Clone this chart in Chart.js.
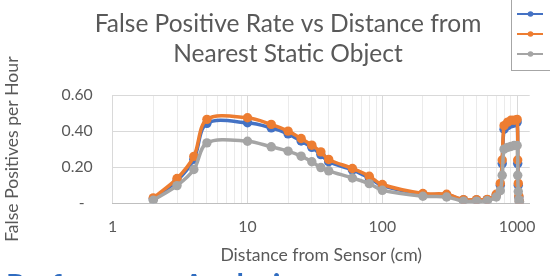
<!DOCTYPE html>
<html><head><meta charset="utf-8">
<script src="https://cdn.jsdelivr.net/npm/chart.js@4.4.1/dist/chart.umd.min.js"></script>
<style>
html,body{margin:0;padding:0;width:550px;height:276px;overflow:hidden;background:#fff}
#wrap{position:relative;width:550px;height:276px;overflow:hidden}
canvas{display:block}
#heading{position:absolute;left:6px;top:269px;font:bold 30px Lato, sans-serif;color:#2F6CC0;white-space:nowrap;line-height:1}
</style></head><body>
<div id="wrap"><canvas id="c" width="550" height="276"></canvas><div id="heading">Performance Analysis</div></div>
<script>
// ---- data ----
const distances = [2,3,4,5,10,15,20,25,30,35,40,60,80,100,200,300,400,500,600,700,750,775,800,850,900,950,1000,1010,1020,1030,1040];
const seriesBlue   = [0.025,0.125,0.244,0.443,0.446,0.418,0.385,0.345,0.31,0.27,0.23,0.185,0.14,0.098,0.05,0.047,0.018,0.018,0.02,0.045,0.10,0.22,0.41,0.43,0.44,0.445,0.45,0.22,0.10,0.035,0.008];
const seriesOrange = [0.03,0.137,0.26,0.465,0.474,0.437,0.40,0.359,0.322,0.285,0.243,0.193,0.15,0.104,0.054,0.05,0.02,0.02,0.022,0.05,0.11,0.24,0.43,0.45,0.46,0.46,0.465,0.24,0.11,0.04,0.01];
const seriesGray   = [0.017,0.098,0.187,0.335,0.344,0.313,0.289,0.261,0.23,0.198,0.18,0.14,0.109,0.072,0.039,0.035,0.012,0.012,0.014,0.035,0.07,0.155,0.30,0.31,0.315,0.32,0.32,0.155,0.065,0.02,0.005];
const seriesNames = ['Series 1','Series 2','Series 3'];
const xTickLabels = [1,10,100,1000];
const yTickValues = [0,0.2,0.4,0.6];
const yTickLabels = ['-  ','0.20','0.40','0.60'];
const titleLines = ['False Positive Rate vs Distance from','Nearest Static Object'];
const xTitle = 'Distance from Sensor (cm)';
const yTitle = 'False Positives per Hour';
const headingText = 'Performance Analysis';

document.getElementById('heading').textContent = headingText;

const colors = ['#4472C4','#ED7D31','#A5A5A5'];
const FONT = 'Lato, "Open Sans", sans-serif';
const TEXT = '#595959';

function pts(vals){ return distances.map((d,i)=>({x:d,y:vals[i]})); }

// all log gridline positions (1..9, 10..90, 100..900, 1000)
const gridVals = [];
for (let dec=1; dec<=100; dec*=10){ for(let k=1;k<=9;k++) gridVals.push(k*dec); }
gridVals.push(1000);

const titlePlugin = {
  id:'twoLineTitle',
  afterDraw(chart){
    const ctx = chart.ctx; ctx.save();
    ctx.font = '24.5px ' + FONT; ctx.fillStyle = TEXT;
    ctx.textAlign = 'center'; ctx.textBaseline = 'alphabetic';
    titleLines.forEach((t,i)=>ctx.fillText(t, 288, 32 + i*30));
    ctx.restore();
  }
};
const legendPlugin = {
  id:'boxLegend',
  afterDraw(chart){
    const ctx = chart.ctx; ctx.save();
    ctx.fillStyle = '#fff'; ctx.fillRect(511,-2,60,72);
    ctx.strokeStyle = '#a6a6a6'; ctx.lineWidth = 1; ctx.strokeRect(511.5,-2,60,72.5);
    chart.data.datasets.forEach((ds,i)=>{
      const y = 14 + i*20;
      ctx.strokeStyle = ds.borderColor; ctx.lineWidth = 2;
      ctx.beginPath(); ctx.moveTo(517,y); ctx.lineTo(543,y); ctx.stroke();
      ctx.fillStyle = ds.borderColor;
      ctx.beginPath(); ctx.arc(530.5,y,2.8,0,Math.PI*2); ctx.fill();
    });
    ctx.restore();
  }
};

const mk = (i,vals,order)=>({
  label: seriesNames[i], data: pts(vals), borderColor: colors[i], backgroundColor: colors[i],
  borderWidth: 3.5, pointRadius: 4.7, pointHoverRadius: 4.7, pointBorderWidth: 0,
  tension: 0.33, order: order
});

new Chart(document.getElementById('c'), {
  type: 'line',
  data: { datasets: [ mk(0,seriesBlue,3), mk(1,seriesOrange,2), mk(2,seriesGray,1) ] },
  options: {
    responsive: false, animation: false, devicePixelRatio: 1,
    layout: { padding: { top: 95, right: 18.3, bottom: 0, left: 0 } },
    plugins: { legend: { display: false }, tooltip: { enabled: false }, title: { display: false } },
    scales: {
      x: {
        type: 'logarithmic', min: 1, max: 1240,
        afterBuildTicks: s => { s.ticks = gridVals.map(v=>({value:v})); },
        afterFit: s => { s.height = 276 - 203.3; },
        ticks: { autoSkip: false, maxRotation: 0, padding: 14, color: TEXT, font: { family: FONT, size: 15.8 },
          callback: (v)=> xTickLabels.includes(v) ? String(v) : '' },
        grid: { drawTicks: false, color: c => (c.tick && xTickLabels.includes(c.tick.value)) ? '#d9d9d9' : '#ebebeb' },
        border: { display: true, color: '#bfbfbf', width: 1 },
        title: { display: true, text: xTitle, color: TEXT, font: { family: FONT, size: 17.6 }, padding: { top: 0, bottom: 10 } }
      },
      y: {
        min: 0, max: 0.6,
        afterBuildTicks: s => { s.ticks = yTickValues.map(v=>({value:v})); },
        afterFit: s => { s.width = 112.7; },
        ticks: { padding: 20, color: TEXT, font: { family: FONT, size: 15.8 },
          callback: (v,i)=> yTickLabels[i] },
        grid: { drawTicks: false, color: '#d9d9d9' },
        border: { display: false },
        title: { display: true, text: yTitle, color: TEXT, font: { family: FONT, size: 17.6 }, padding: { top: 2, bottom: 0 } }
      }
    }
  },
  plugins: [titlePlugin, legendPlugin]
});
</script>
</body></html>
